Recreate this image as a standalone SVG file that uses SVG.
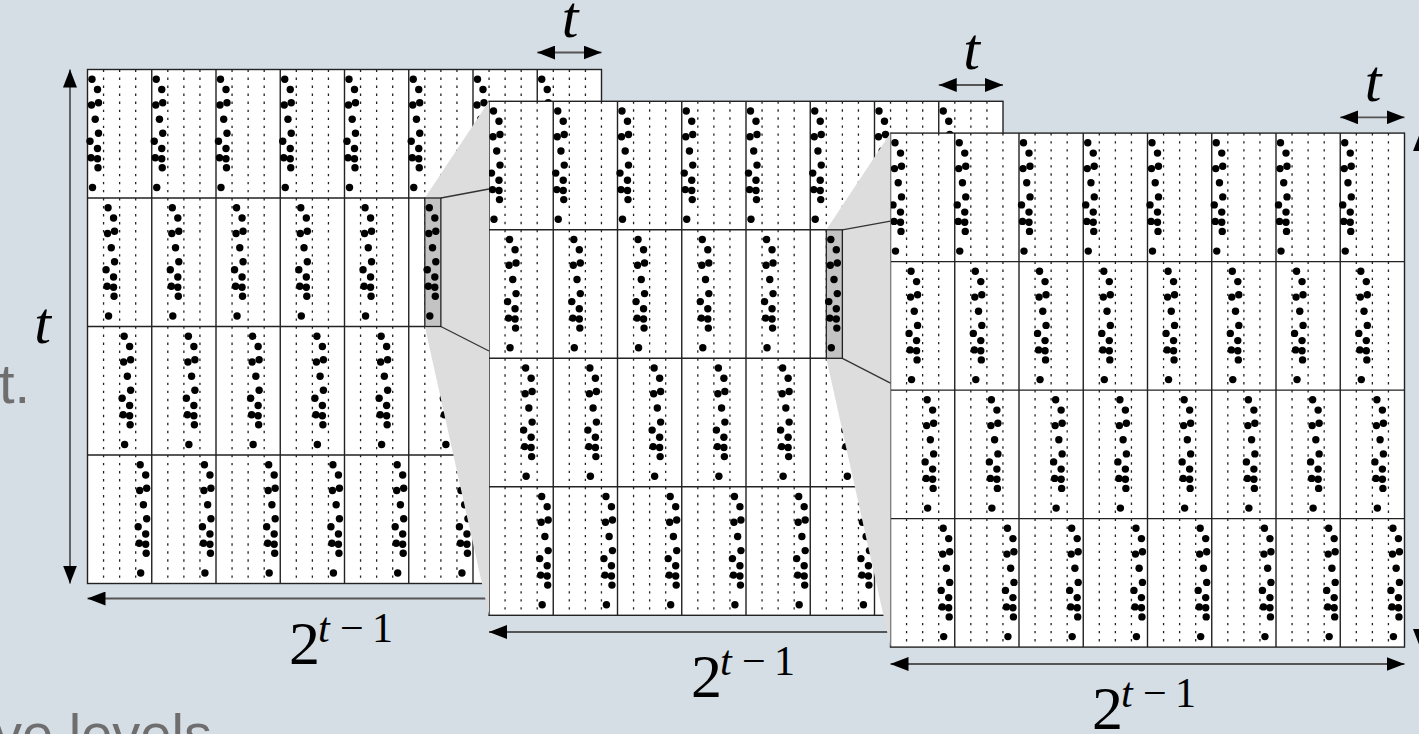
<svg xmlns="http://www.w3.org/2000/svg" width="1419" height="734" viewBox="0 0 1419 734">
<style>
.bg{fill:#d5dde5}
.grid{fill:none;stroke:#222;stroke-width:1.4}
.dash{fill:none;stroke:#222;stroke-width:1.3;stroke-dasharray:2.4 5.63}
.dim{fill:none;stroke:#555;stroke-width:1.8;marker-start:url(#ah);marker-end:url(#ah)}
.mi{font-family:"Liberation Serif","DejaVu Serif",serif;font-style:italic;font-size:60px;fill:#000}
.mr{font-family:"Liberation Serif","DejaVu Serif",serif;font-size:62px;fill:#000}
.ms{font-family:"Liberation Serif","DejaVu Serif",serif;font-size:42px;fill:#000}
.slide{font-family:"Liberation Sans",Arial,sans-serif;font-size:56px;fill:#6e6e6e}
.wedge{fill:#dddddd;stroke:none}
.edge{stroke:#333;stroke-width:1.3;fill:none}
.hl{fill:#c3c3c3;stroke:#222;stroke-width:1.3}
</style>
<defs>
<marker id="ah" viewBox="0 0 18 14" refX="18" refY="7" markerWidth="18" markerHeight="14" markerUnits="userSpaceOnUse" orient="auto-start-reverse">
<path d="M0,0 L18,7 L0,14 z" fill="#000"/>
</marker>
<g id="d" fill="#000">
<circle cx="4.5" cy="9.7" r="3.7"/>
<circle cx="10" cy="20" r="3.7"/>
<circle cx="4" cy="35.5" r="3.7"/>
<circle cx="11" cy="33.2" r="3.7"/>
<circle cx="7.7" cy="49.7" r="3.7"/>
<circle cx="11" cy="63.8" r="3.7"/>
<circle cx="2.5" cy="71.8" r="3.7"/>
<circle cx="10" cy="79" r="3.7"/>
<circle cx="3.5" cy="88.3" r="3.7"/>
<circle cx="10" cy="89.2" r="3.7"/>
<circle cx="10.5" cy="98.3" r="3.7"/>
<circle cx="5" cy="118" r="3.7"/>
</g>
<g id="cd">
<use href="#d"/>
<use href="#d" x="16.06" y="128.5"/>
<use href="#d" x="32.13" y="257"/>
<use href="#d" x="48.19" y="385.5"/>
</g>
<g id="panel">
<rect width="514" height="514" fill="#fff"/>
<path class="dash" d="M16.06 0V514M32.13 0V514M48.19 0V514M80.31 0V514M96.38 0V514M112.44 0V514M144.56 0V514M160.63 0V514M176.69 0V514M208.81 0V514M224.88 0V514M240.94 0V514M273.06 0V514M289.13 0V514M305.19 0V514M337.31 0V514M353.38 0V514M369.44 0V514M401.56 0V514M417.63 0V514M433.69 0V514M465.81 0V514M481.88 0V514M497.94 0V514"/>
<path class="grid" d="M64.25 0V514M128.5 0V514M192.75 0V514M257 0V514M321.25 0V514M385.5 0V514M449.75 0V514M0 128.5H514M0 257H514M0 385.5H514"/>
<rect class="grid" width="514" height="514"/>
<use href="#cd"/>
<use href="#cd" x="64.25"/>
<use href="#cd" x="128.5"/>
<use href="#cd" x="192.75"/>
<use href="#cd" x="257"/>
<use href="#cd" x="321.25"/>
<use href="#cd" x="385.5"/>
<use href="#cd" x="449.75"/>
</g>
</defs>
<rect class="bg" width="1419" height="734"/>
<g id="slide-text">
<text class="slide" x="-1" y="403">t.</text>
<text class="slide" x="-6" y="753">ve levels</text>
</g>
<g id="panel1">
<use href="#panel" x="87.5" y="69.5"/>
<line class="dim" x1="537.25" y1="52.5" x2="601.5" y2="52.5"/>
<line class="dim" x1="70" y1="69.5" x2="70" y2="583.5"/>
<line class="dim" x1="87.5" y1="598.5" x2="601.5" y2="598.5"/>
<text class="mi" x="570" y="37" text-anchor="middle">t</text>
<text class="mi" x="42.5" y="343" text-anchor="middle">t</text>
<text class="mr" x="289" y="664">2</text>
<text class="ms" y="642"><tspan x="318" font-style="italic">t</tspan><tspan x="340">−</tspan><tspan x="372">1</tspan></text>
</g>
<g id="panel2">
<use href="#panel" x="489" y="101.3"/>
<line class="dim" x1="938.75" y1="85" x2="1003" y2="85"/>
<line class="dim" x1="489" y1="632" x2="1003" y2="632"/>
<text class="mi" x="971.5" y="69" text-anchor="middle">t</text>
<text class="mr" x="691" y="697">2</text>
<text class="ms" y="675"><tspan x="720" font-style="italic">t</tspan><tspan x="742">−</tspan><tspan x="774">1</tspan></text>
</g>
<g id="panel3">
<use href="#panel" x="890.5" y="133.1"/>
<line class="dim" x1="1340.25" y1="117.3" x2="1404.5" y2="117.3"/>
<line class="dim" x1="890.5" y1="664" x2="1404.5" y2="664"/>
<line class="dim" x1="1420" y1="133.1" x2="1420" y2="647.1"/>
<text class="mi" x="1373" y="101" text-anchor="middle">t</text>
<text class="mr" x="1092" y="729">2</text>
<text class="ms" y="707"><tspan x="1121" font-style="italic">t</tspan><tspan x="1143">−</tspan><tspan x="1175">1</tspan></text>
</g>
<g id="connectors">
<polygon class="wedge" points="424.81,198 489,101.3 489,615.3 424.81,326.5"/>
<line class="edge" x1="440.87" y1="198" x2="489" y2="189"/>
<line class="edge" x1="440.87" y1="326.5" x2="489" y2="351"/>
<rect class="hl" x="424.81" y="198" width="16.06" height="128.5"/>
<use href="#d" x="424.81" y="198"/>
<polygon class="wedge" points="826.31,229.8 890.5,133.1 890.5,647.1 826.31,358.3"/>
<line class="edge" x1="842.37" y1="229.8" x2="890.5" y2="221.1"/>
<line class="edge" x1="842.37" y1="358.3" x2="890.5" y2="383.1"/>
<rect class="hl" x="826.31" y="229.8" width="16.06" height="128.5"/>
<use href="#d" x="826.31" y="229.8"/>
</g>
</svg>
